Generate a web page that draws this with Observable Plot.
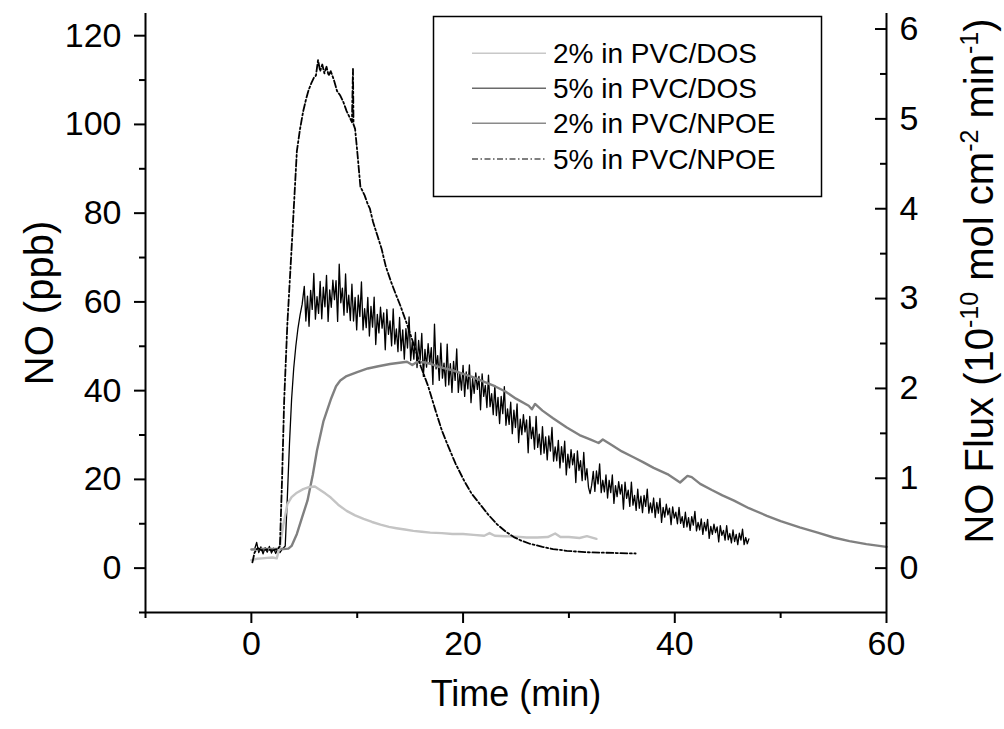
<!DOCTYPE html>
<html><head><meta charset="utf-8">
<script src="https://cdn.jsdelivr.net/npm/d3@7"></script>
<script src="https://cdn.jsdelivr.net/npm/@observablehq/plot@0.6"></script>
<style>
html,body{margin:0;padding:0;background:#fff;}
#wrap{position:relative;width:1004px;height:729px;font-family:"Liberation Sans",Arial,sans-serif;}
#legend{position:absolute;left:0;top:0;pointer-events:none;}
</style></head><body><div id="wrap"></div>
<script>
// ---- axis settings ----
const xDomain = [-10, 60];
const yDomain = [-10, 125];
const xTicks = [0, 20, 40, 60];
const xMinorTicks = [-10, 10, 30, 50];
const yTicks = [0, 20, 40, 60, 80, 100, 120];
const yMinorTicks = [-10, 10, 30, 50, 70, 90, 110];
const fluxTicks = [0, 1, 2, 3, 4, 5, 6];
const fluxMinorTicks = [0.5, 1.5, 2.5, 3.5, 4.5, 5.5];
const ppbPerFlux = 20.25; // 1 x 10^-10 mol cm^-2 min^-1 corresponds to this many ppb

const xTitle = "Time (min)";
const yTitle = "NO (ppb)";
const rightTitle = "NO Flux (10-10 mol cm-2 min-1)";

// ---- series ----
const seriesNames = ["2% in PVC/DOS", "5% in PVC/DOS", "2% in PVC/NPOE", "5% in PVC/NPOE"];
const seriesColors = ["#c4c4c4", "#000000", "#808080", "#000000"];
const legendColors = ["#c8c8c8", "#6a6a6a", "#8a8a8a", "#000000"];

// 2% in PVC/DOS  [time, ppb]
const dos2Points = [
  [0,1.8],[0.5,2.1],[1,2.2],[1.5,2.3],[2,2.4],[2.4,2.2],[2.7,5],[3.0,9.5],[3.4,14.4],[3.8,16],
  [4.3,17],[4.9,17.8],[5.5,18.3],[6.0,18.4],[6.5,17.6],[7.0,16.8],[7.5,15.9],[8.2,14.3],[9,12.9],[9.8,11.9],
  [10.6,11.1],[11.4,10.4],[12.2,9.8],[13,9.3],[13.7,9.0],[14.5,8.7],[15.3,8.4],[16.1,8.2],[16.9,8.0],[18,7.9],
  [19,7.7],[20,7.7],[21,7.5],[22,7.3],[22.5,7.9],[23,7.3],[24,7.2],[25,7.1],[26,6.9],[27,6.9],
  [28,7.0],[28.7,7.8],[29.2,7.0],[30,7.0],[31,6.8],[31.7,7.2],[32.6,6.6]
];

// 5% in PVC/DOS: baseline and rise [time, ppb]
const dos5Lead = [
  [0.3,4.2],[0.5,5.8],[0.7,3.5],[0.9,4.8],[1.1,3.2],[1.3,4.6],[1.5,3.6],[1.7,4.9],[1.9,3.4],[2.1,4.5],
  [2.3,3.3],[2.5,4.4],[2.7,3.5],[2.9,4.2],[3.2,5],[3.4,16],[3.6,28],[3.8,38],[4.0,45],[4.2,50],
  [4.4,54],[4.6,57],[4.8,59.5]
];
// 5% in PVC/DOS: noisy trace sampled every 0.15 min from 5.0 min
const dos5Start = 5.0;
const dos5Step = 0.15;
const dos5Values = [
  63.5,55.7,61.3,54.5,62.6,58.3,66.4,56.1,61.2,57.4,
  64.6,56.2,63.3,58.9,66.0,55.6,62.7,58.8,64.9,60.5,
  64.8,55.6,68.5,59.8,63.1,57.0,66.3,57.6,61.5,55.8,
  64.0,55.7,61.0,53.7,61.5,56.7,64.5,53.7,58.5,54.2,
  61.0,52.3,59.0,54.3,61.1,50.4,57.2,53.0,58.8,54.1,
  57.5,49.2,58.3,52.7,55.7,50.1,58.4,50.5,53.9,48.8,
  56.5,49.0,53.7,47.1,54.0,49.6,56.6,46.8,51.0,47.1,
  53.1,45.2,51.3,46.9,52.9,43.2,49.3,45.3,50.6,46.2,
  49.7,41.4,55.0,44.9,47.9,42.3,50.7,42.8,46.2,41.0,
  50.5,41.3,46.1,39.6,46.6,42.3,49.4,39.6,43.9,40.1,
  45.7,38.7,44.2,40.4,45.8,37.3,42.7,39.4,44.0,40.3,
  43.2,35.7,43.8,38.7,41.2,36.2,43.5,36.4,39.3,34.6,
  41.1,34.4,38.5,32.6,38.7,34.8,40.9,32.2,35.9,32.4,
  37.4,30.3,35.6,31.7,37.0,28.3,33.6,30.1,34.6,30.7,
  33.4,26.0,34.2,29.2,31.8,26.8,34.2,27.2,30.2,25.6,
  31.9,25.9,29.6,24.4,29.8,26.4,31.7,24.1,27.3,24.2,
  28.8,22.6,27.4,23.9,28.6,21.0,25.7,22.6,26.7,23.3,
  25.8,19.3,26.4,22.0,24.2,19.7,26.1,19.9,22.4,18.2,
  16.8,18.7,21.8,17.3,21.9,19.0,23.5,17.0,19.8,17.2,
  21.0,15.8,19.8,17.0,21.0,14.6,18.6,16.1,19.5,16.7,
  18.8,13.3,19.4,15.7,17.6,13.9,19.4,14.2,16.4,13.0,
  17.8,13.5,16.2,12.5,16.4,13.9,17.8,12.4,14.7,12.5,
  15.8,11.4,14.8,12.4,15.7,10.3,13.7,11.5,14.4,12.0,
  13.5,9.8,13.8,11.3,12.6,10.0,13.7,10.1,11.6,9.2,
  12.6,9.3,11.4,8.5,11.6,9.7,12.8,8.4,10.3,8.6,
  11.1,7.6,10.3,8.4,11.0,6.7,9.4,7.6,9.9,8.0,
  9.3,5.9,9.6,7.4,8.5,6.3,9.6,6.4,7.8,5.7,
  8.6,6.0,7.6,5.3,7.9,6.3,8.8,5.3,6.9,5.5,
  6.6
];

// 2% in PVC/NPOE [time, ppb]
const npoe2Points = [
  [0,4.2],[1,4.3],[2,4.3],[3,4.3],[3.5,4.4],[3.8,5],[4.3,7.7],[4.8,11.5],[5.3,15.2],[5.8,21],
  [6.2,26.5],[6.8,33],[7.5,38],[8.0,41],[8.4,42.3],[9,43.3],[10,44.2],[11,45],[12,45.5],[13.1,46],
  [14,46.3],[14.7,46.5],[15.2,45.8],[15.6,46.4],[16.3,46.4],[17,46],[17.8,45.3],[19,44.6],[20,43.8],[21,43],
  [22,42],[23,41],[24,39.8],[25,38.2],[26.2,36.6],[26.5,35.8],[26.8,37],[27.5,35.5],[28.5,33.8],[29.8,31.7],
  [31,30],[32,29],[32.8,28.2],[33.2,29],[34,27.8],[35,26.3],[36.1,25],[37,23.9],[38,22.6],[39.3,21.2],
  [40.5,19.3],[41.2,20.8],[41.6,20.5],[42.4,19],[43.5,17.6],[44.5,16.4],[45.6,15.2],[47,13.5],[48.7,11.8],[50,10.6],
  [51.8,9.2],[53.5,8],[55,6.9],[56.5,6.1],[58.1,5.4],[60,4.8]
];

// 5% in PVC/NPOE [time, ppb]
const npoe5Points = [
  [0.1,1.3],[0.3,3.5],[0.6,4.5],[1,4],[1.5,4.2],[2,4],[2.5,4.3],[2.7,5],[2.9,20],[3.1,37.8],
  [3.4,55],[3.8,72],[4.3,94],[4.6,99],[4.9,103],[5.2,106],[5.4,107.7],[5.7,109.5],[5.9,110.5],[6.1,111],
  [6.3,114.5],[6.5,112],[6.7,113.5],[6.9,111.5],[7.1,113],[7.3,111],[7.5,112],[7.8,110],[8.1,107.5],[8.4,106.5],
  [8.7,105],[9.0,103],[9.3,101.5],[9.5,100.5],[9.6,112.5],[9.65,100],[9.8,99],[10,94],[10.3,86],[10.5,85],
  [10.7,84],[11,82],[11.2,81],[11.5,78],[11.9,75],[12.3,72],[12.7,68],[13.2,64.5],[13.6,62],[14.1,59],
  [14.7,55],[15.4,50],[16,45.5],[16.7,41],[17.4,35.5],[18,31],[18.5,28],[19.3,23.5],[20.1,19.7],[20.8,16.8],
  [21.6,14.4],[22.4,12],[23.2,9.9],[24,8.3],[24.8,7],[25.5,6.2],[26.3,5.5],[27.5,4.8],[28.5,4.3],[29.8,3.9],
  [31.5,3.6],[33,3.5],[34.5,3.4],[36.3,3.3]
];

// ---- build tables ----
const toRows = pts => pts.map(([t, v]) => ({t, v}));
const dos2Data = toRows(dos2Points);
const dos5Data = toRows(dos5Lead).concat(dos5Values.map((v, i) => ({t: dos5Start + i * dos5Step, v})));
const npoe2Data = toRows(npoe2Points);
const npoe5Data = toRows(npoe5Points);

const FONT = '"Liberation Sans", Arial, Helvetica, sans-serif';
const frameW = 1004 - 145 - 118;

const chart = Plot.plot({
  width: 1004, height: 729,
  marginLeft: 145, marginRight: 118, marginTop: 13, marginBottom: 117,
  x: {domain: xDomain},
  y: {domain: yDomain},
  style: {fontFamily: FONT, background: "#fff", color: "#000", overflow: "visible"},
  marks: [
    Plot.line(dos5Data, {x: "t", y: "v", stroke: seriesColors[1], strokeWidth: 1.3}),
    Plot.line(npoe2Data, {x: "t", y: "v", stroke: seriesColors[2], strokeWidth: 2.4}),
    Plot.line(dos2Data, {x: "t", y: "v", stroke: seriesColors[0], strokeWidth: 2.4}),
    Plot.line(npoe5Data, {x: "t", y: "v", stroke: seriesColors[3], strokeWidth: 1.8, strokeDasharray: "7,2.5,2,2.5"}),
    // axis lines
    Plot.ruleX([xDomain[0]], {strokeWidth: 2}),
    Plot.ruleX([xDomain[1]], {strokeWidth: 2}),
    Plot.ruleY([yDomain[0]], {strokeWidth: 2}),
    // left axis
    Plot.axisY({anchor: "left", ticks: yTicks, tickSize: 11, tickPadding: 13, fontSize: 34, strokeWidth: 2, label: null}),
    Plot.axisY({anchor: "left", ticks: yMinorTicks, tickSize: 6, tickFormat: () => "", strokeWidth: 2, label: null}),
    // bottom axis
    Plot.axisX({anchor: "bottom", ticks: xTicks, tickSize: 11, tickPadding: 7, fontSize: 34, strokeWidth: 2, label: null}),
    Plot.axisX({anchor: "bottom", ticks: xMinorTicks, tickSize: 6, tickFormat: () => "", strokeWidth: 2, label: null}),
    // right axis (flux), ticks pointing inward
    Plot.tickY(fluxTicks.map(f => f * ppbPerFlux), {insetLeft: frameW - 11, strokeWidth: 2}),
    Plot.tickY(fluxMinorTicks.map(f => f * ppbPerFlux), {insetLeft: frameW - 6, strokeWidth: 2}),
    Plot.axisY({anchor: "right", ticks: fluxTicks.map(f => f * ppbPerFlux), tickSize: 0, tickPadding: 13,
      tickFormat: d => String(Math.round(d / ppbPerFlux)), fontSize: 34, label: null}),
    // titles
    Plot.text([xTitle], {frameAnchor: "bottom", textAnchor: "middle", dy: 93, fontSize: 36}),
    Plot.text([yTitle], {frameAnchor: "left", textAnchor: "middle", rotate: -90, dx: -105, dy: -10, fontSize: 40}),
    Plot.text([rightTitle], {frameAnchor: "right", textAnchor: "middle", rotate: -90, dx: 94, dy: -32, fontSize: 40})
  ]
});

const wrap = document.getElementById("wrap");
wrap.appendChild(chart);

// superscripts in the right-hand title
d3.select(chart).selectAll("text").filter(function () { return this.textContent === rightTitle; })
  .each(function () {
    const t = d3.select(this);
    t.text(null);
    const parts = [["NO Flux (10", 0], ["-10", 1], [" mol cm", 0], ["-2", 1], [" min", 0], ["-1", 1], [")", 0]];
    let prevSup = 0;
    parts.forEach(([s, sup]) => {
      const sp = t.append("tspan").text(s);
      if (sup) { sp.attr("font-size", 25).attr("dy", -15); }
      else if (prevSup) { sp.attr("dy", 15); }
      prevSup = sup;
    });
  });

// legend box
const lg = d3.select(wrap).append("svg").attr("id", "legend").attr("width", 1004).attr("height", 729);
lg.append("rect").attr("x", 433.5).attr("y", 16.5).attr("width", 388).attr("height", 180)
  .attr("fill", "#fff").attr("stroke", "#000").attr("stroke-width", 1.5);
const rowY = [53.3, 88.3, 123.3, 159];
seriesNames.forEach((name, i) => {
  lg.append("line").attr("x1", 472).attr("x2", 546).attr("y1", rowY[i]).attr("y2", rowY[i])
    .attr("stroke", legendColors[i]).attr("stroke-width", i === 3 ? 1.2 : 1.5)
    .attr("stroke-dasharray", i === 3 ? "6,2.5,1.5,2.5" : null);
  lg.append("text").attr("x", 553).attr("y", rowY[i]).attr("dy", "0.35em")
    .attr("font-family", FONT).attr("font-size", 28).attr("fill", "#000").text(name);
});
</script></body></html>
